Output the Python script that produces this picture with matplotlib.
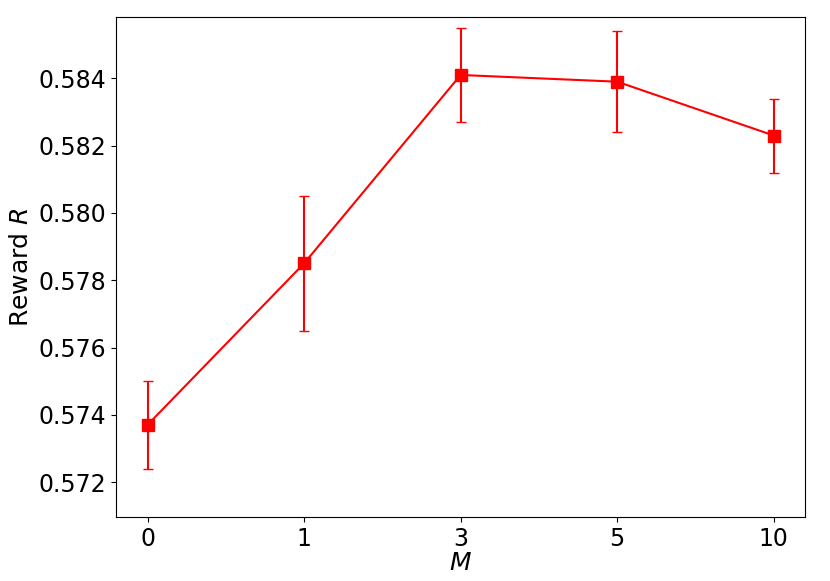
import matplotlib
matplotlib.use("Agg")
import matplotlib.pyplot as plt

m_labels = ["0", "1", "3", "5", "10"]
reward = [0.5737, 0.5785, 0.5841, 0.5839, 0.5823]
err_low = [0.5724, 0.5765, 0.5827, 0.5824, 0.5812]
err_high = [0.5750, 0.5805, 0.5855, 0.5854, 0.5834]

yerr = [
    [r - lo for r, lo in zip(reward, err_low)],
    [hi - r for r, hi in zip(reward, err_high)],
]
x = list(range(len(m_labels)))

fig, ax = plt.subplots(figsize=(8.3, 5.81), dpi=100)
ax.errorbar(x, reward, yerr=yerr, color="red", marker="s", markersize=9,
            linewidth=1.5, elinewidth=1.5, capsize=3.5)
ax.set_xticks(x)
ax.set_xticklabels(m_labels)
ax.set_ylim(0.57096, 0.58581)
ax.set_yticks([0.572, 0.574, 0.576, 0.578, 0.580, 0.582, 0.584])
ax.set_yticklabels(["0.572", "0.574", "0.576", "0.578", "0.580", "0.582", "0.584"])
ax.tick_params(labelsize=17)
ax.set_xlabel("$M$", fontsize=18, labelpad=0)
ax.set_ylabel("Reward $R$", fontsize=18)
fig.subplots_adjust(left=0.14, right=0.97, top=0.97, bottom=0.11)
fig.savefig("out.png", dpi=100)
